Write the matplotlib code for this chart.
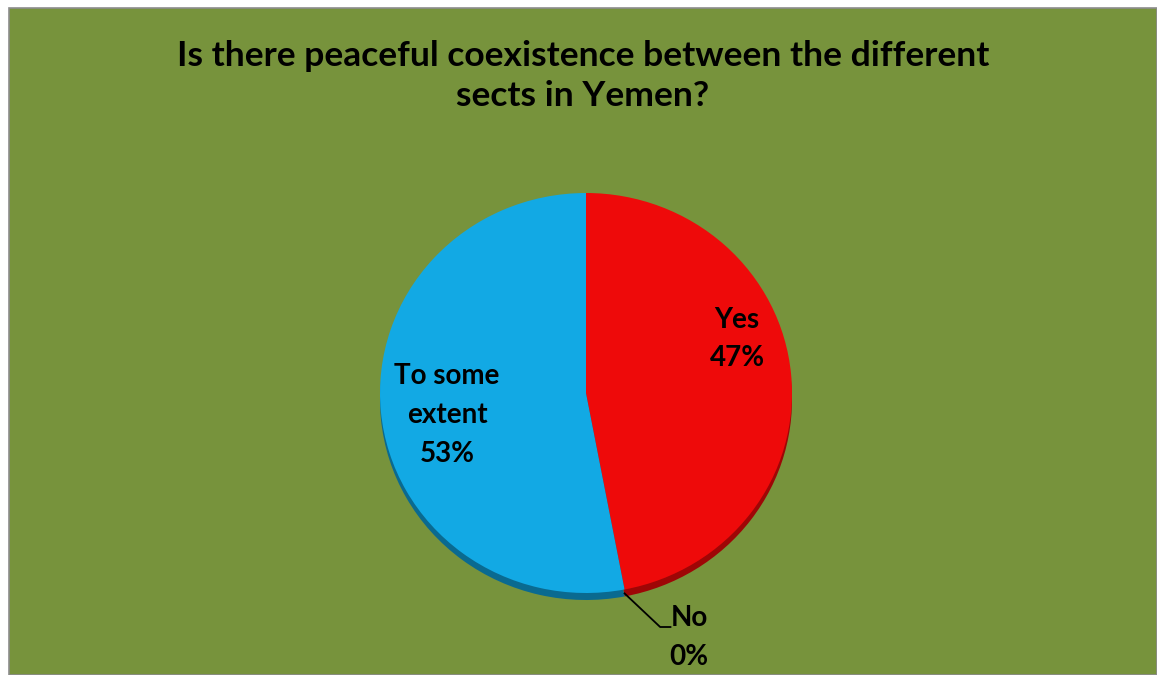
import numpy as np
import matplotlib
matplotlib.use("Agg")
import matplotlib.pyplot as plt
from matplotlib.patches import Rectangle

title = "Is there peaceful coexistence between the different\nsects in Yemen?"
labels = ["Yes", "No", "To some\nextent"]
values = [47, 0, 53]
colors = ["#EE0A0A", "#7030A0", "#12A9E4"]
rim_colors = ["#9E0606", "#4A2070", "#0A6A90"]

W, H = 1157, 675
fig = plt.figure(figsize=(W / 100, H / 100), dpi=100, facecolor="white")

# green chart area with thin grey frame
fig.patches.append(Rectangle((9 / W, 0), 1 - 9 / W, 1 - 8 / H, transform=fig.transFigure,
                             facecolor="#77933C", edgecolor="#8C8C8C", linewidth=1.2, zorder=-5))

fig.text(583 / W, 1 - 76 / H, title, ha="center", va="center", fontsize=25.5,
         fontweight="bold", family="Lato", linespacing=1.33)

# slightly flattened pie (3D tilt look)
cx, cy, rx, ry = 586, 393, 206, 200
ax = fig.add_axes([(cx - rx) / W, (H - cy - ry) / H, 2 * rx / W, 2 * ry / H])
ax.set_zorder(2)
ax.axis("off")

# darker rim to fake the 3D edge
ax.pie(values, colors=rim_colors, startangle=90, counterclock=False, radius=1.0,
       center=(0, -0.035), wedgeprops=dict(linewidth=0), frame=False)
wedges, _ = ax.pie(values, colors=colors, startangle=90, counterclock=False, radius=1.0,
                   center=(0, 0), wedgeprops=dict(linewidth=0), frame=False)
ax.set_xlim(-1, 1)
ax.set_ylim(-1, 1)
ax.set_aspect("auto")

font = dict(fontsize=20, fontweight="bold", family="Lato", linespacing=1.6)
ax.text(0.733, 0.27, f"{labels[0]}\n{values[0]}%", ha="center", va="center", **font)
ax.text(-0.675, -0.11, f"{labels[2]}\n{values[2]}%", ha="center", va="center", **font)

# leader line for the empty slice
ang = np.deg2rad((wedges[1].theta1 + wedges[1].theta2) / 2)
p0 = (np.cos(ang), np.sin(ang) - 0.02)
ax.plot([p0[0], 0.36, 0.41], [p0[1], -1.17, -1.17], color="black", lw=1.3, clip_on=False)
ax.text(0.5, -1.125, labels[1], ha="center", va="center", clip_on=False, **font)
ax.text(0.5, -1.32, f"{values[1]}%", ha="center", va="center", clip_on=False, **font)

fig.savefig("out.png", dpi=100, facecolor="white")
